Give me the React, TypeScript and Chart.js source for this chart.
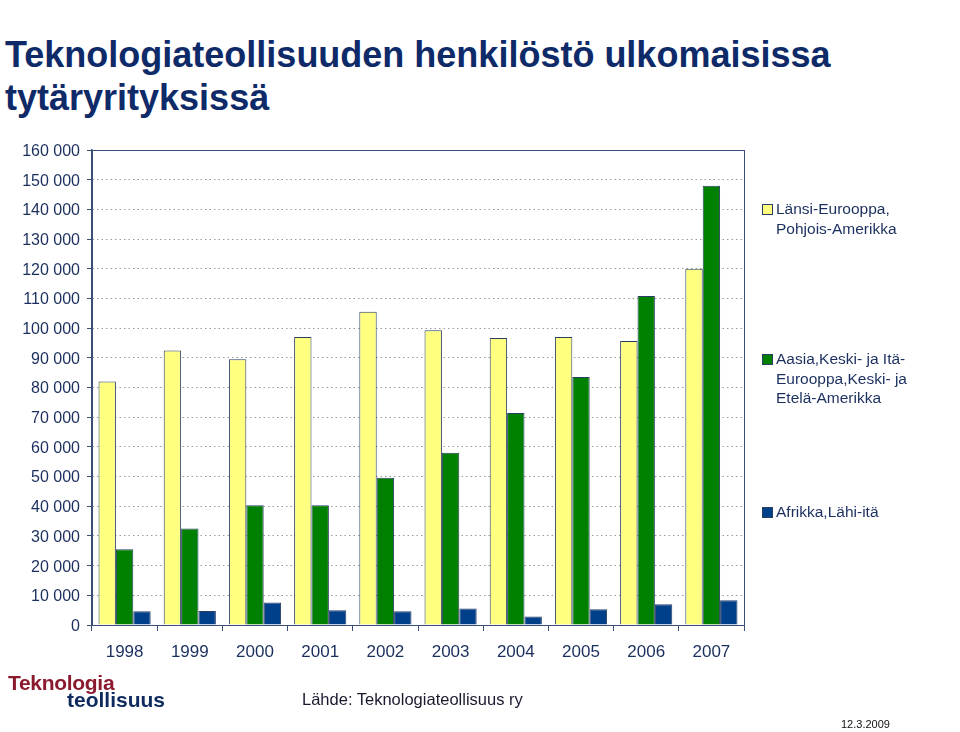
import React, { useEffect, useRef } from "react";
import { Chart, registerables } from "chart.js";

Chart.register(...registerables);

const years = ["1998", "1999", "2000", "2001", "2002", "2003", "2004", "2005", "2006", "2007"];
const westValues = [82000, 92500, 89500, 97000, 105500, 99300, 96700, 97000, 95700, 120000];
const asiaValues = [25500, 32500, 40300, 40300, 49600, 58000, 71400, 83500, 110800, 148000];
const africaValues = [4600, 4700, 7600, 5000, 4600, 5600, 2900, 5300, 7000, 8300];
const seriesNames = [
  "Länsi-Eurooppa, Pohjois-Amerikka",
  "Aasia,Keski- ja Itä-Eurooppa,Keski- ja Etelä-Amerikka",
  "Afrikka,Lähi-itä",
];
const seriesColors = ["#FFFF80", "#008000", "#003F8A"];
const yMax = 160000;
const yStep = 10000;

const NAVY = "#1B2F5E";

const borderPlugin = {
  id: "plotBorder",
  afterDatasetsDraw(chart: any) {
    const { ctx, chartArea } = chart;
    ctx.save();
    ctx.strokeStyle = "#3A4F78";
    ctx.lineWidth = 1;
    ctx.setLineDash([]);
    ctx.strokeRect(
      Math.round(chartArea.left) + 0.5,
      Math.round(chartArea.top) + 0.5,
      Math.round(chartArea.right - chartArea.left),
      Math.round(chartArea.bottom - chartArea.top)
    );
    ctx.restore();
  },
};

function fmt(v: number) {
  return String(v).replace(/\B(?=(\d{3})+(?!\d))/g, " ");
}

export default function App() {
  const ref = useRef<HTMLCanvasElement | null>(null);

  useEffect(() => {
    if (!ref.current) return;
    const chart = new Chart(ref.current, {
      type: "bar",
      data: {
        labels: years,
        datasets: [westValues, asiaValues, africaValues].map((d, i) => ({
          label: seriesNames[i],
          data: d,
          backgroundColor: seriesColors[i],
          borderColor: "#2A3F63",
          borderWidth: 1,
          categoryPercentage: 0.8,
          barPercentage: 1,
        })),
      },
      options: {
        animation: false,
        responsive: false,
        maintainAspectRatio: false,
        layout: { padding: { left: 0, top: 150, right: 216, bottom: 67 } },
        plugins: {
          legend: { display: false },
          tooltip: { enabled: false },
          title: { display: false },
        },
        scales: {
          x: {
            grid: {
              display: true,
              offset: true,
              drawOnChartArea: false,
              drawTicks: true,
              tickLength: 6,
              color: "#3A4F78",
              tickColor: "#3A4F78",
            },
            border: { display: true, color: "#3A4F78", width: 1 },
            ticks: {
              color: NAVY,
              font: { family: "Arial, 'Liberation Sans', sans-serif", size: 17 },
              padding: 11,
              maxRotation: 0,
            },
            afterFit(scale: any) {
              scale.height = 40;
            },
          },
          y: {
            min: 0,
            max: yMax,
            grid: {
              color: "#9A9A9A",
              lineWidth: 1,
              drawTicks: true,
              tickLength: 5,
              tickColor: "#3A4F78",
              tickBorderDash: [],
            },
            border: { display: true, color: "#3A4F78", width: 1.5, dash: [1.5, 3] },
            ticks: {
              stepSize: yStep,
              color: NAVY,
              padding: 7,
              labelOffset: 1.5,
              font: { family: "Arial, 'Liberation Sans', sans-serif", size: 16 },
              callback: (v: any) => fmt(Number(v)),
            },
            afterFit(scale: any) {
              scale.width = 92;
            },
          },
        },
      },
      plugins: [borderPlugin],
    });
    return () => chart.destroy();
  }, []);

  const legendItems = [
    { top: 199, lines: ["Länsi-Eurooppa,", "Pohjois-Amerikka"] },
    { top: 349, lines: ["Aasia,Keski- ja Itä-", "Eurooppa,Keski- ja", "Etelä-Amerikka"] },
    { top: 502, lines: ["Afrikka,Lähi-itä"] },
  ];

  const font = "Arial, 'Liberation Sans', sans-serif";

  return (
    <div
      style={{
        position: "absolute",
        left: 0,
        top: 0,
        width: 960,
        height: 732,
        background: "#ffffff",
        fontFamily: font,
        overflow: "hidden",
      }}
    >
      <div
        style={{
          position: "absolute",
          left: 5,
          top: 33,
          width: 950,
          fontSize: 36,
          lineHeight: "43px",
          fontWeight: "bold",
          color: "#0E2A68",
          whiteSpace: "nowrap",
        }}
      >
        Teknologiateollisuuden henkilöstö ulkomaisissa
        <br />
        tytäryrityksissä
      </div>
      <canvas
        ref={ref}
        width={960}
        height={732}
        style={{ position: "absolute", left: 0, top: 0, width: 960, height: 732 }}
      />
      {legendItems.map((it, i) => (
        <div key={i} style={{ position: "absolute", left: 762, top: it.top }}>
          <div
            style={{
              position: "absolute",
              left: 0,
              top: 5,
              width: 11,
              height: 11,
              background: seriesColors[i],
              border: "1px solid #2A3F63",
              boxSizing: "border-box",
            }}
          />
          <div
            style={{
              position: "absolute",
              left: 14,
              top: 0,
              width: 190,
              fontSize: 15.5,
              lineHeight: "19.5px",
              color: NAVY,
            }}
          >
            {it.lines.map((l, j) => (
              <div key={j}>{l}</div>
            ))}
          </div>
        </div>
      ))}
      <div
        style={{
          position: "absolute",
          left: 8,
          top: 672,
          fontSize: 21,
          lineHeight: "21px",
          fontWeight: "bold",
          color: "#8B1A2E",
          letterSpacing: -0.3,
        }}
      >
        Teknologia
      </div>
      <div
        style={{
          position: "absolute",
          left: 67,
          top: 689,
          fontSize: 21,
          lineHeight: "21px",
          fontWeight: "bold",
          color: "#0E2A5E",
          letterSpacing: 0,
        }}
      >
        teollisuus
      </div>
      <div
        style={{
          position: "absolute",
          left: 302,
          top: 689,
          fontSize: 16.5,
          lineHeight: "20px",
          color: "#1A1A2E",
        }}
      >
        Lähde: Teknologiateollisuus ry
      </div>
      <div
        style={{
          position: "absolute",
          left: 841,
          top: 718,
          fontSize: 11,
          lineHeight: "13px",
          color: "#111",
        }}
      >
        12.3.2009
      </div>
    </div>
  );
}
